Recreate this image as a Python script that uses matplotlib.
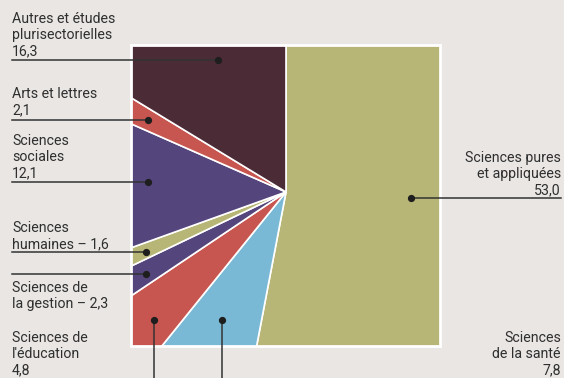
import matplotlib.pyplot as plt
from matplotlib.patches import Rectangle

# parts by domain (%), clockwise from the top
labels = ['Sciences pures et appliquées', 'Sciences de la santé', "Sciences de l'éducation",
          'Sciences de la gestion', 'Sciences humaines', 'Sciences sociales',
          'Arts et lettres', 'Autres et études plurisectorielles']
values = [53.0, 7.8, 4.8, 2.3, 1.6, 12.1, 2.1, 16.3]
colors = ['#b7b676', '#79b9d5', '#c75550', '#54457d', '#b7b676', '#54457d', '#c75550', '#4b2b35']

W, H = 564, 378
BG = '#e9e6e4'
TXT = '#2f2f2f'
plt.rcParams['font.family'] = ['Roboto', 'DejaVu Sans']

fig = plt.figure(figsize=(W / 100, H / 100), dpi=100, facecolor=BG)


def Y(p):
    return H - p


# square box the pie is cut to (pixel coords)
x0, x1, top, bot = 131, 440, 45, 346

pax = fig.add_axes([x0 / W, Y(bot) / H, (x1 - x0) / W, (bot - top) / H], zorder=1)
pax.pie(values, colors=colors, startangle=90, counterclock=False,
        center=(286, Y(192)), radius=600,
        wedgeprops=dict(edgecolor='white', linewidth=1.2, clip_on=True))
pax.set_xlim(x0, x1)
pax.set_ylim(Y(bot), Y(top))
pax.set_aspect('auto')
pax.axis('off')

# overlay for frame, leaders and labels
ax = fig.add_axes([0, 0, 1, 1], zorder=2)
ax.patch.set_alpha(0)
ax.set_xlim(0, W)
ax.set_ylim(0, H)
ax.axis('off')
ax.add_patch(Rectangle((x0, Y(bot)), x1 - x0, bot - top, facecolor='none',
                       edgecolor='white', lw=2))

fs = 10.2
lc = '#333333'


def leader(xs, ys, dot):
    ax.plot(xs, [Y(v) for v in ys], color=lc, lw=1.1)
    ax.plot([dot[0]], [Y(dot[1])], 'o', color='#1e1e1e', ms=4.2)


def label(x, y, s, ha='left'):
    ax.text(x, Y(y), s, ha=ha, va='baseline', fontsize=fs, color=TXT,
            linespacing=1.2)


label(12, 55, 'Autres et études\nplurisectorielles\n16,3')
leader([12, 218], [60, 60], (218, 60))

label(12, 114, 'Arts et lettres\n2,1')
leader([12, 148], [120, 120], (148, 120))

label(12, 177, 'Sciences\nsociales\n12,1')
leader([12, 148], [182, 182], (148, 182))

label(12, 248, 'Sciences\nhumaines – 1,6')
leader([12, 146], [252, 252], (146, 252))

leader([12, 146], [274, 274], (146, 274))
label(12, 308, 'Sciences de\nla gestion – 2,3')

label(12, 374, "Sciences de\nl'éducation\n4,8")
leader([154, 154], [320, 378], (154, 320))

leader([222, 222], [320, 378], (222, 320))
label(561, 374, 'Sciences\nde la santé\n7,8', ha='right')

label(561, 194, 'Sciences pures\net appliquées\n53,0', ha='right')
leader([411, 561], [198, 198], (411, 198))

fig.savefig('out.png', dpi=100, facecolor=BG)
